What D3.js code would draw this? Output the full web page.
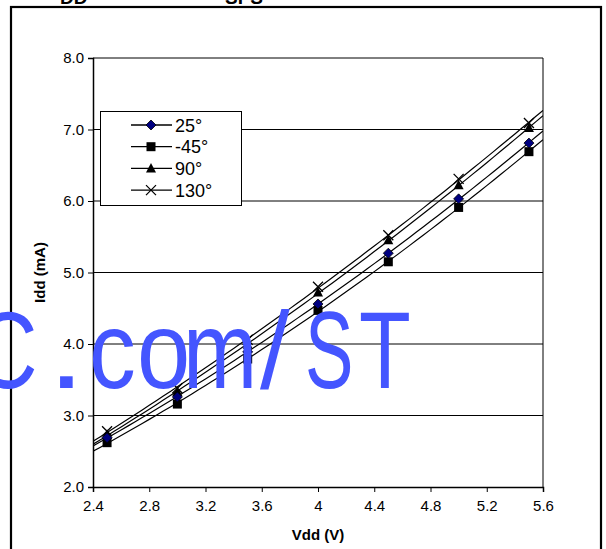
<!DOCTYPE html>
<html><head><meta charset="utf-8">
<script src="https://d3js.org/d3.v7.min.js"></script>
<style>body{margin:0;background:#fff}svg{display:block}</style>
</head><body>
<script>
const vdd = [2.5, 3.0, 3.5, 4.0, 4.5, 5.0, 5.5];
const seriesNames = ["25°", "-45°", "90°", "130°"];
const idd25 = [2.69, 3.26, 3.89, 4.56, 5.27, 6.03, 6.81];
const iddM45 = [2.62, 3.16, 3.79, 4.47, 5.15, 5.91, 6.69];
const idd90 = [2.73, 3.33, 3.99, 4.72, 5.45, 6.22, 7.02];
const idd130 = [2.78, 3.38, 4.06, 4.80, 5.52, 6.31, 7.09];
const markerTypes = ["diamond", "square", "triangle", "cross"];
const xTicks = [2.4, 2.8, 3.2, 3.6, 4.0, 4.4, 4.8, 5.2, 5.6];
const xTickLabels = ["2.4", "2.8", "3.2", "3.6", "4", "4.4", "4.8", "5.2", "5.6"];
const yTicks = [2, 3, 4, 5, 6, 7, 8];
const watermarkChars = ["C", ".", "c", "o", "m", "/", "S", "T"];

(function () {
const series = [idd25, iddM45, idd90, idd130].map((v, i) => ({name: seriesNames[i], values: v, marker: markerTypes[i]}));

const W = 606, H = 549;
const svg = d3.select("body").append("svg").attr("width", W).attr("height", H);
const FONT = "'Liberation Sans', Arial, sans-serif";

// outer frame
svg.append("rect").attr("x", 11).attr("y", 7).attr("width", 590).attr("height", 560)
  .attr("fill", "none").attr("stroke", "#000").attr("stroke-width", 2.2);

// clipped title remnants
svg.append("text").attr("x", 60).attr("y", 4).attr("font-family", FONT).attr("font-weight", "bold")
  .attr("font-size", 19).text("DD");
svg.append("text").attr("x", 225).attr("y", 4).attr("font-family", FONT).attr("font-weight", "bold")
  .attr("font-size", 19).text("SPS");

const pL = 93, pR = 543, pT = 58, pB = 487;
const x = d3.scaleLinear().domain([2.4, 5.6]).range([pL, pR]);
const y = d3.scaleLinear().domain([2, 8]).range([pB, pT]);

// gridlines
svg.append("g").selectAll("line").data(yTicks.slice(1)).join("line")
  .attr("x1", pL).attr("x2", pR).attr("y1", d => y(d)).attr("y2", d => y(d))
  .attr("stroke", "#000").attr("stroke-width", 1);
svg.append("line").attr("x1", pR).attr("x2", pR).attr("y1", pT).attr("y2", pB)
  .attr("stroke", "#000").attr("stroke-width", 1);

// axes
const yAxis = d3.axisLeft(y).tickValues(yTicks).tickFormat(d3.format(".1f")).tickSizeOuter(0).tickSize(5).tickPadding(4);
const gy = svg.append("g").attr("transform", `translate(${pL},0)`).call(yAxis);
const xAxis = d3.axisBottom(x).tickValues(xTicks).tickFormat((d, i) => xTickLabels[i]).tickSizeOuter(0).tickSize(5).tickPadding(8);
const gx = svg.append("g").attr("transform", `translate(0,${pB})`).call(xAxis);
[gx, gy].forEach(g => {
  g.select(".domain").attr("stroke", "#000").attr("stroke-width", 1.5);
  g.selectAll(".tick line").attr("stroke", "#000");
  g.selectAll(".tick text").attr("font-family", FONT).attr("font-size", 15).attr("fill", "#000");
});

// axis titles
svg.append("text").attr("x", (pL + pR) / 2).attr("y", 540).attr("text-anchor", "middle")
  .attr("font-family", FONT).attr("font-weight", "bold").attr("font-size", 15).text("Vdd (V)");
svg.append("text").attr("transform", `translate(45,${(pT + pB) / 2}) rotate(-90)`).attr("text-anchor", "middle")
  .attr("font-family", FONT).attr("font-weight", "bold").attr("font-size", 15).text("Idd (mA)");

// quadratic least-squares trendline
function quadFit(xs, ys) {
  let S = [0,0,0,0,0], T = [0,0,0];
  xs.forEach((xv, i) => {
    for (let k = 0; k < 5; k++) S[k] += Math.pow(xv, k);
    for (let k = 0; k < 3; k++) T[k] += ys[i] * Math.pow(xv, k);
  });
  const A = [[S[0],S[1],S[2],T[0]],[S[1],S[2],S[3],T[1]],[S[2],S[3],S[4],T[2]]];
  for (let c = 0; c < 3; c++) {
    for (let r = c + 1; r < 3; r++) {
      const f = A[r][c] / A[c][c];
      for (let k = c; k < 4; k++) A[r][k] -= f * A[c][k];
    }
  }
  const b = [0,0,0];
  for (let r = 2; r >= 0; r--) {
    let s = A[r][3];
    for (let k = r + 1; k < 3; k++) s -= A[r][k] * b[k];
    b[r] = s / A[r][r];
  }
  return xv => b[0] + b[1] * xv + b[2] * xv * xv;
}

svg.append("clipPath").attr("id", "pc").append("rect")
  .attr("x", pL).attr("y", pT).attr("width", pR - pL).attr("height", pB - pT);

const line = d3.line().x(d => x(d[0])).y(d => y(d[1]));
const sampleX = d3.range(0, 65).map(i => 2.4 + i * 0.05);
const plot = svg.append("g").attr("clip-path", "url(#pc)");
series.forEach(s => {
  const f = quadFit(vdd, s.values);
  plot.append("path").datum(sampleX.map(xv => [xv, f(xv)])).attr("d", line)
    .attr("fill", "none").attr("stroke", "#000").attr("stroke-width", 1.2);
});

function drawMarker(g, type, cx, cy) {
  if (type === "diamond") {
    g.append("path").attr("d", `M${cx},${cy-5}L${cx+5},${cy}L${cx},${cy+5}L${cx-5},${cy}Z`)
      .attr("fill", "#000080").attr("stroke", "#000").attr("stroke-width", 0.8);
  } else if (type === "square") {
    g.append("rect").attr("x", cx - 4.5).attr("y", cy - 4.5).attr("width", 9).attr("height", 9).attr("fill", "#000");
  } else if (type === "triangle") {
    g.append("path").attr("d", `M${cx},${cy-5.5}L${cx+5},${cy+4}L${cx-5},${cy+4}Z`).attr("fill", "#000");
  } else {
    g.append("path").attr("d", `M${cx-5},${cy-5}L${cx+5},${cy+5}M${cx+5},${cy-5}L${cx-5},${cy+5}`)
      .attr("stroke", "#000").attr("stroke-width", 1.3);
  }
}
const mk = svg.append("g");
[1, 3, 2, 0].forEach(i => {
  const s = series[i];
  vdd.forEach((xv, j) => drawMarker(mk, s.marker, x(xv), y(s.values[j])));
});

// watermark: glyphs placed and narrowed individually to match the source
const wmX = [-26, 48, 89, 137, 183, 260, 305, 359];
const wmS = [0.8, 1.2, 0.85, 0.87, 0.81, 0.97, 0.66, 0.77];
const wm = svg.append("g").attr("fill", "#4455ff").attr("font-family", FONT).attr("font-size", 110);
watermarkChars.forEach((ch, i) => {
  wm.append("text").attr("transform", `translate(${wmX[i]},388) scale(${wmS[i]},1)`).text(ch);
});

// legend
const lg = svg.append("g");
lg.append("rect").attr("x", 100.5).attr("y", 111.5).attr("width", 141).attr("height", 94)
  .attr("fill", "#fff").attr("stroke", "#000").attr("stroke-width", 1);
series.forEach((s, i) => {
  const cy = 125 + i * 21.7;
  lg.append("line").attr("x1", 131).attr("x2", 172).attr("y1", cy).attr("y2", cy).attr("stroke", "#000").attr("stroke-width", 1.3);
  drawMarker(lg, s.marker, 151, cy);
  lg.append("text").attr("x", 175).attr("y", cy + 6.5).attr("font-family", FONT).attr("font-size", 18).text(s.name);
});
})();
</script>
</body></html>
